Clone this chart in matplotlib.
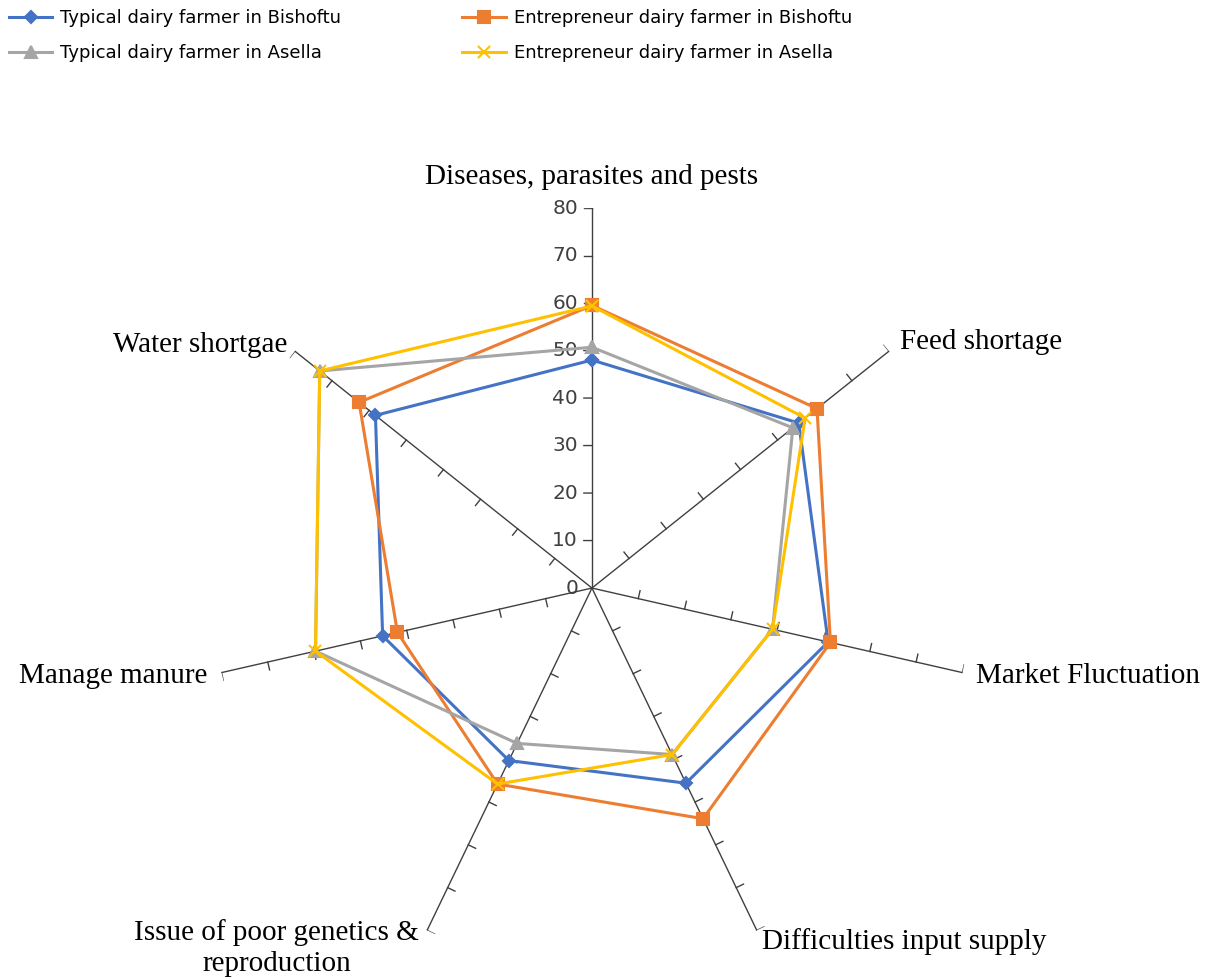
import numpy as np
import matplotlib
matplotlib.use("Agg")
import matplotlib.pyplot as plt

# categories, clockwise from top
categories = ["Diseases, parasites and pests", "Feed shortage", "Market Fluctuation",
              "Difficulties input supply", "Issue of poor genetics &\nreproduction",
              "Manage manure", "Water shortgae"]

typical_bishoftu = [48, 55.7, 51, 45.6, 40.3, 45.2, 58.3]
entre_bishoftu = [59.5, 60.6, 51.5, 53.9, 45.8, 42, 62.7]
typical_asella = [50.7, 54.1, 39, 38.9, 36.3, 59.7, 73.3]
entre_asella = [59.4, 57.4, 39, 38.9, 45.8, 59.7, 73.3]

r_ticks = [0, 10, 20, 30, 40, 50, 60, 70, 80]

series = [
    ("Typical dairy farmer in Bishoftu", typical_bishoftu, "#4472C4", "D", 6),
    ("Entrepreneur dairy farmer in Bishoftu", entre_bishoftu, "#ED7D31", "s", 8),
    ("Typical dairy farmer in Asella", typical_asella, "#A5A5A5", "^", 8),
    ("Entrepreneur dairy farmer in Asella", entre_asella, "#FFC000", "x", 8),
]

fig = plt.figure(figsize=(12.18, 9.8), dpi=100)
ax = fig.add_axes([0.174, 0.0122, 0.624, 0.7755], projection="polar")
ax.set_theta_offset(np.pi / 2)
ax.set_theta_direction(-1)
ax.set_ylim(0, 80)
ax.set_xticks([])
ax.set_yticks([])
ax.grid(False)
ax.spines["polar"].set_visible(False)
ax.patch.set_alpha(0)

n = len(categories)
angles = np.arange(n) * 2 * np.pi / n

# spokes with little tick marks
L = 1.7
for th in angles:
    ax.plot([th, th], [0, 80], color="#404040", lw=1.0, zorder=1)
    for r in r_ticks[1:]:
        ax.plot([th, th - L / r], [r, np.hypot(r, L)], color="#404040", lw=1.0, zorder=1)

# value labels on the first axis
for r in r_ticks:
    ax.annotate(str(r), (0, r), xytext=(-10, 0), textcoords="offset points",
                ha="right", va="center", fontsize=14.5, color="#404040",
                family="DejaVu Sans")

handles = {}
for name, vals, col, mk, ms in series:
    th = np.append(angles, angles[0])
    v = np.append(vals, vals[0])
    line, = ax.plot(th, v, color=col, lw=2.2, marker=mk, markersize=ms,
                    markeredgewidth=1.5, zorder=3, clip_on=False)
    handles[name] = line

# category labels
lab_pos = [(86.5, "center", "center"), (83, "left", "center"), (83, "left", "center"),
           (82.7, "left", "center"), (84, "right", "center"), (83, "right", "center"),
           (82, "right", "center")]
for th, lab, (r, ha, va) in zip(angles, categories, lab_pos):
    ax.text(th, r, lab, ha=ha, va=va, fontsize=21, family="Liberation Serif",
            multialignment="center", color="#000000", linespacing=1.25)

order = [series[0][0], series[2][0], series[1][0], series[3][0]]
fig.legend([handles[k] for k in order], order, loc="upper left",
           bbox_to_anchor=(-0.006, 1.007), ncol=2, frameon=False,
           handlelength=2.4, handletextpad=0.45, columnspacing=6.7, labelspacing=0.92,
           prop={"family": "DejaVu Sans", "size": 13})

fig.savefig("out.png", dpi=100)
